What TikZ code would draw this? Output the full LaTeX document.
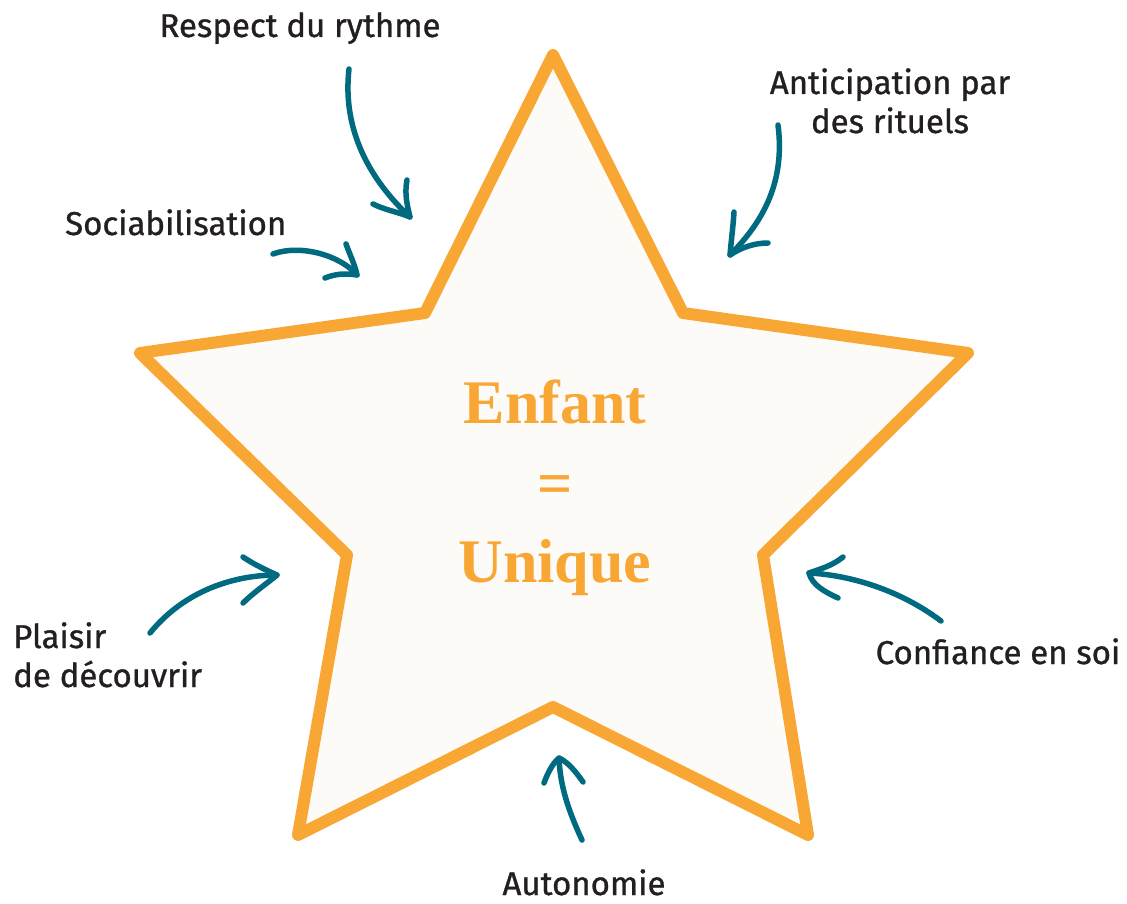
\documentclass[tikz,border=0pt]{standalone}
\usepackage{fontspec}
\setmainfont{Fira Sans}[FakeBold=0.9]
\newfontfamily\titlefont{Liberation Serif}
\definecolor{starorange}{HTML}{F8A735}
\definecolor{starfill}{HTML}{FDFBF7}
\definecolor{teal}{HTML}{006A80}
\definecolor{txt}{HTML}{231F20}
\begin{document}
\begin{tikzpicture}[x=1pt,y=-1pt,
  lbl/.style={text=txt,font=\fontsize{33}{39}\selectfont,inner sep=0pt},
  title/.style={text=starorange,font=\titlefont\bfseries\fontsize{62}{62}\selectfont,inner sep=0pt},
  arr/.style={draw=teal,line width=5.5pt,line cap=round,line join=round},
  starline/.style={draw=starorange,fill=starfill,line width=12pt,line join=round}]
\useasboundingbox (0,0) rectangle (1127,904);
% star
\draw[starline] (553,55) coordinate (s1) -- (683,313) coordinate (s2) -- (968,353) coordinate (s3)
  -- (763,555) coordinate (s4) -- (808,835) coordinate (s5) -- (553,707) coordinate (s6)
  -- (298,835) coordinate (s7) -- (347,555) coordinate (s8) -- (140,353) coordinate (s9)
  -- (425,313) coordinate (s10) -- cycle;
% title
\node[title,anchor=base] (enf) at (555,423) {Enfant};
\node[title,anchor=center] (eq) at (555,490) {=};
\node[title,anchor=base] (uni) at (555,582) {Unique};
% labels
\node[lbl,anchor=base] (l1) at (300,37) {Respect du rythme};
\node[lbl,anchor=base,align=center] (l2) at (890,133) {Anticipation par\\des rituels};
\node[lbl,anchor=base west] (l3) at (65,235) {Sociabilisation};
\node[lbl,anchor=base west,align=left] (l4) at (13,687) {Plaisir\\de découvrir};
\node[lbl,anchor=base] (l5) at (998,664) {Confiance en soi};
\node[lbl,anchor=base] (l6) at (584,895) {Autonomie};
% arrows
\coordinate (a1s) at (349,69); \coordinate (a1t) at (410,217);
\draw[arr] (a1s) .. controls (342,130) and (370,180) .. (a1t);
\draw[arr] (407,180) .. controls (404,195) and (408,208) .. (a1t) .. controls (398,212) and (385,210) .. (373,204);
\coordinate (a2s) at (273,254); \coordinate (a2t) at (357,275);
\draw[arr] (a2s) .. controls (300,244) and (340,255) .. (a2t);
\draw[arr] (346,244) .. controls (350,255) and (355,265) .. (a2t) .. controls (345,273) and (335,274) .. (325,278);
\coordinate (a3s) at (778,125); \coordinate (a3t) at (730,255);
\draw[arr] (a3s) .. controls (785,180) and (765,220) .. (a3t);
\draw[arr] (734,212) .. controls (733,228) and (731,242) .. (a3t) .. controls (742,247) and (755,243) .. (768,243);
\coordinate (a4s) at (150,633); \coordinate (a4t) at (277,575);
\draw[arr] (a4s) .. controls (185,590) and (235,575) .. (a4t);
\draw[arr] (243,557) .. controls (255,565) and (266,570) .. (a4t) .. controls (265,585) and (253,593) .. (243,603);
\coordinate (a5s) at (941,621); \coordinate (a5t) at (809,573);
\draw[arr] (a5s) .. controls (900,590) and (850,575) .. (a5t);
\draw[arr] (843,557) .. controls (832,566) and (820,569) .. (a5t) .. controls (812,585) and (825,592) .. (838,598);
\coordinate (a6s) at (582,840); \coordinate (a6t) at (559,758);
\draw[arr] (a6s) .. controls (568,810) and (560,785) .. (a6t);
\draw[arr] (544,783) .. controls (548,772) and (553,763) .. (a6t) .. controls (568,762) and (576,772) .. (583,782);
\end{tikzpicture}
\end{document}
